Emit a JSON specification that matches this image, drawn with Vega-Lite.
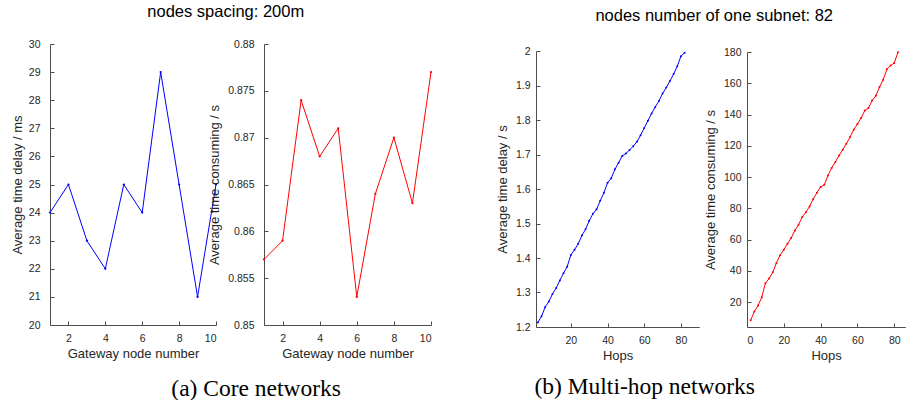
{
  "$schema": "https://vega.github.io/schema/vega-lite/v6.json",
  "padding": {"left": 11, "top": 3, "right": 0, "bottom": 0},
  "background": "white",
  "config": {
    "view": {"stroke": null},
    "font": "Liberation Sans",
    "axis": {
      "grid": false,
      "domainColor": "#4d4d4d",
      "tickColor": "#4d4d4d",
      "tickSize": -4,
      "labelFont": "Liberation Sans",
      "labelFontSize": 10.5,
      "labelColor": "#262626",
      "titleFont": "Liberation Sans",
      "titleFontSize": 13,
      "titleFontWeight": "normal",
      "titleColor": "#262626"
    },
    "title": {"font": "Liberation Sans", "fontSize": 16.5, "fontWeight": "normal", "color": "#000000", "anchor": "start"}
  },
  "datasets": {
    "core": [
      {"gateway": 1, "delay_ms": 24, "consuming_s": 0.857},
      {"gateway": 2, "delay_ms": 25, "consuming_s": 0.859},
      {"gateway": 3, "delay_ms": 23, "consuming_s": 0.874},
      {"gateway": 4, "delay_ms": 22, "consuming_s": 0.868},
      {"gateway": 5, "delay_ms": 25, "consuming_s": 0.871},
      {"gateway": 6, "delay_ms": 24, "consuming_s": 0.853},
      {"gateway": 7, "delay_ms": 29, "consuming_s": 0.864},
      {"gateway": 8, "delay_ms": 25, "consuming_s": 0.870},
      {"gateway": 9, "delay_ms": 21, "consuming_s": 0.863},
      {"gateway": 10, "delay_ms": 25, "consuming_s": 0.877}
    ],
    "multihop": [
      {"hops": 2, "delay_s": 1.213, "consuming_s": 8.3},
      {"hops": 4, "delay_s": 1.231, "consuming_s": 14.0},
      {"hops": 6, "delay_s": 1.258, "consuming_s": 17.7},
      {"hops": 8, "delay_s": 1.274, "consuming_s": 23.0},
      {"hops": 10, "delay_s": 1.296, "consuming_s": 32.0},
      {"hops": 12, "delay_s": 1.313, "consuming_s": 35.0},
      {"hops": 14, "delay_s": 1.335, "consuming_s": 39.0},
      {"hops": 16, "delay_s": 1.356, "consuming_s": 45.0},
      {"hops": 18, "delay_s": 1.375, "consuming_s": 50.0},
      {"hops": 20, "delay_s": 1.409, "consuming_s": 53.5},
      {"hops": 22, "delay_s": 1.424, "consuming_s": 57.3},
      {"hops": 24, "delay_s": 1.441, "consuming_s": 61.0},
      {"hops": 26, "delay_s": 1.465, "consuming_s": 65.7},
      {"hops": 28, "delay_s": 1.483, "consuming_s": 69.5},
      {"hops": 30, "delay_s": 1.508, "consuming_s": 74.4},
      {"hops": 32, "delay_s": 1.528, "consuming_s": 77.4},
      {"hops": 34, "delay_s": 1.541, "consuming_s": 81.2},
      {"hops": 36, "delay_s": 1.566, "consuming_s": 86.0},
      {"hops": 38, "delay_s": 1.589, "consuming_s": 90.0},
      {"hops": 40, "delay_s": 1.618, "consuming_s": 93.6},
      {"hops": 42, "delay_s": 1.631, "consuming_s": 95.0},
      {"hops": 44, "delay_s": 1.657, "consuming_s": 101.0},
      {"hops": 46, "delay_s": 1.676, "consuming_s": 105.8},
      {"hops": 48, "delay_s": 1.696, "consuming_s": 109.6},
      {"hops": 50, "delay_s": 1.703, "consuming_s": 113.7},
      {"hops": 52, "delay_s": 1.713, "consuming_s": 117.5},
      {"hops": 54, "delay_s": 1.724, "consuming_s": 121.3},
      {"hops": 56, "delay_s": 1.737, "consuming_s": 125.6},
      {"hops": 58, "delay_s": 1.756, "consuming_s": 130.3},
      {"hops": 60, "delay_s": 1.777, "consuming_s": 134.0},
      {"hops": 62, "delay_s": 1.798, "consuming_s": 137.8},
      {"hops": 64, "delay_s": 1.819, "consuming_s": 142.5},
      {"hops": 66, "delay_s": 1.838, "consuming_s": 144.2},
      {"hops": 68, "delay_s": 1.855, "consuming_s": 149.0},
      {"hops": 70, "delay_s": 1.877, "consuming_s": 152.0},
      {"hops": 72, "delay_s": 1.894, "consuming_s": 157.6},
      {"hops": 74, "delay_s": 1.913, "consuming_s": 162.3},
      {"hops": 76, "delay_s": 1.933, "consuming_s": 169.0},
      {"hops": 78, "delay_s": 1.956, "consuming_s": 171.3},
      {"hops": 80, "delay_s": 1.985, "consuming_s": 173.0},
      {"hops": 82, "delay_s": 1.995, "consuming_s": 179.8}
    ]
  },
  "spacing": 63,
  "hconcat": [
    {
      "title": {"text": "(a) Core networks", "orient": "bottom", "font": "Liberation Serif", "fontSize": 23.5, "offset": 16, "dx": 160},
      "vconcat": [
        {
          "title": {"text": "nodes spacing: 200m", "offset": 19, "dx": 136},
          "bounds": "flush",
          "spacing": 48,
          "hconcat": [
            {
              "width": 166, "height": 281,
              "data": {"name": "core"},
              "mark": {"type": "line", "color": "#0000ff", "strokeWidth": 1, "point": {"filled": true, "size": 5, "color": "#0000ff"}},
              "encoding": {
                "x": {"field": "gateway", "type": "quantitative", "scale": {"domain": [1, 10], "nice": false, "zero": false},
                      "axis": {"values": [2, 4, 6, 8, 10], "title": "Gateway node number", "labelPadding": 12}},
                "y": {"field": "delay_ms", "type": "quantitative", "scale": {"domain": [20, 30], "nice": false, "zero": false},
                      "axis": {"values": [20, 21, 22, 23, 24, 25, 26, 27, 28, 29, 30], "title": "Average time delay / ms", "labelPadding": 14, "titlePadding": 4}}
              }
            },
            {
              "width": 167, "height": 281,
              "data": {"name": "core"},
              "mark": {"type": "line", "color": "#ff0000", "strokeWidth": 1, "point": {"filled": true, "size": 5, "color": "#ff0000"}},
              "encoding": {
                "x": {"field": "gateway", "type": "quantitative", "scale": {"domain": [1, 10], "nice": false, "zero": false},
                      "axis": {"values": [2, 4, 6, 8, 10], "title": "Gateway node number", "labelPadding": 12}},
                "y": {"field": "consuming_s", "type": "quantitative", "scale": {"domain": [0.85, 0.88], "nice": false, "zero": false},
                      "axis": {"values": [0.85, 0.855, 0.86, 0.865, 0.87, 0.875, 0.88], "format": ".3~f", "title": "Average time consuming / s", "labelPadding": 14, "titlePadding": 6}}
              }
            }
          ]
        }
      ]
    },
    {
      "title": {"text": "(b) Multi-hop networks", "orient": "bottom", "font": "Liberation Serif", "fontSize": 23.5, "offset": 12, "dx": 38},
      "vconcat": [
        {
          "title": {"text": "nodes number of one subnet: 82", "offset": 20, "dx": 99},
          "bounds": "flush",
          "spacing": 47,
          "hconcat": [
            {
              "width": 163.3, "height": 283,
              "data": {"name": "multihop"},
              "mark": {"type": "line", "color": "#0000ff", "strokeWidth": 1, "point": {"filled": true, "size": 4, "color": "#0000ff"}},
              "encoding": {
                "x": {"field": "hops", "type": "quantitative", "scale": {"domain": [1, 90], "nice": false, "zero": false},
                      "axis": {"values": [20, 40, 60, 80], "title": "Hops", "labelPadding": 12}},
                "y": {"field": "delay_s", "type": "quantitative", "scale": {"domain": [1.2, 2], "nice": false, "zero": false, "range": [283, 7]},
                      "axis": {"values": [1.2, 1.3, 1.4, 1.5, 1.6, 1.7, 1.8, 1.9, 2], "format": ".1~f", "title": "Average time delay / s", "labelPadding": 10, "titlePadding": 6}}
              }
            },
            {
              "width": 158.3, "height": 283,
              "data": {"name": "multihop"},
              "mark": {"type": "line", "color": "#ff0000", "strokeWidth": 1, "point": {"filled": true, "size": 4, "color": "#ff0000"}},
              "encoding": {
                "x": {"field": "hops", "type": "quantitative", "scale": {"domain": [0, 86], "nice": false, "zero": false},
                      "axis": {"values": [0, 20, 40, 60, 80], "title": "Hops", "labelPadding": 12}},
                "y": {"field": "consuming_s", "type": "quantitative", "scale": {"domain": [4, 180], "nice": false, "zero": false, "range": [283, 8]},
                      "axis": {"values": [20, 40, 60, 80, 100, 120, 140, 160, 180], "title": "Average time consuming / s", "labelPadding": 10, "titlePadding": 6}}
              }
            }
          ]
        }
      ]
    }
  ]
}
